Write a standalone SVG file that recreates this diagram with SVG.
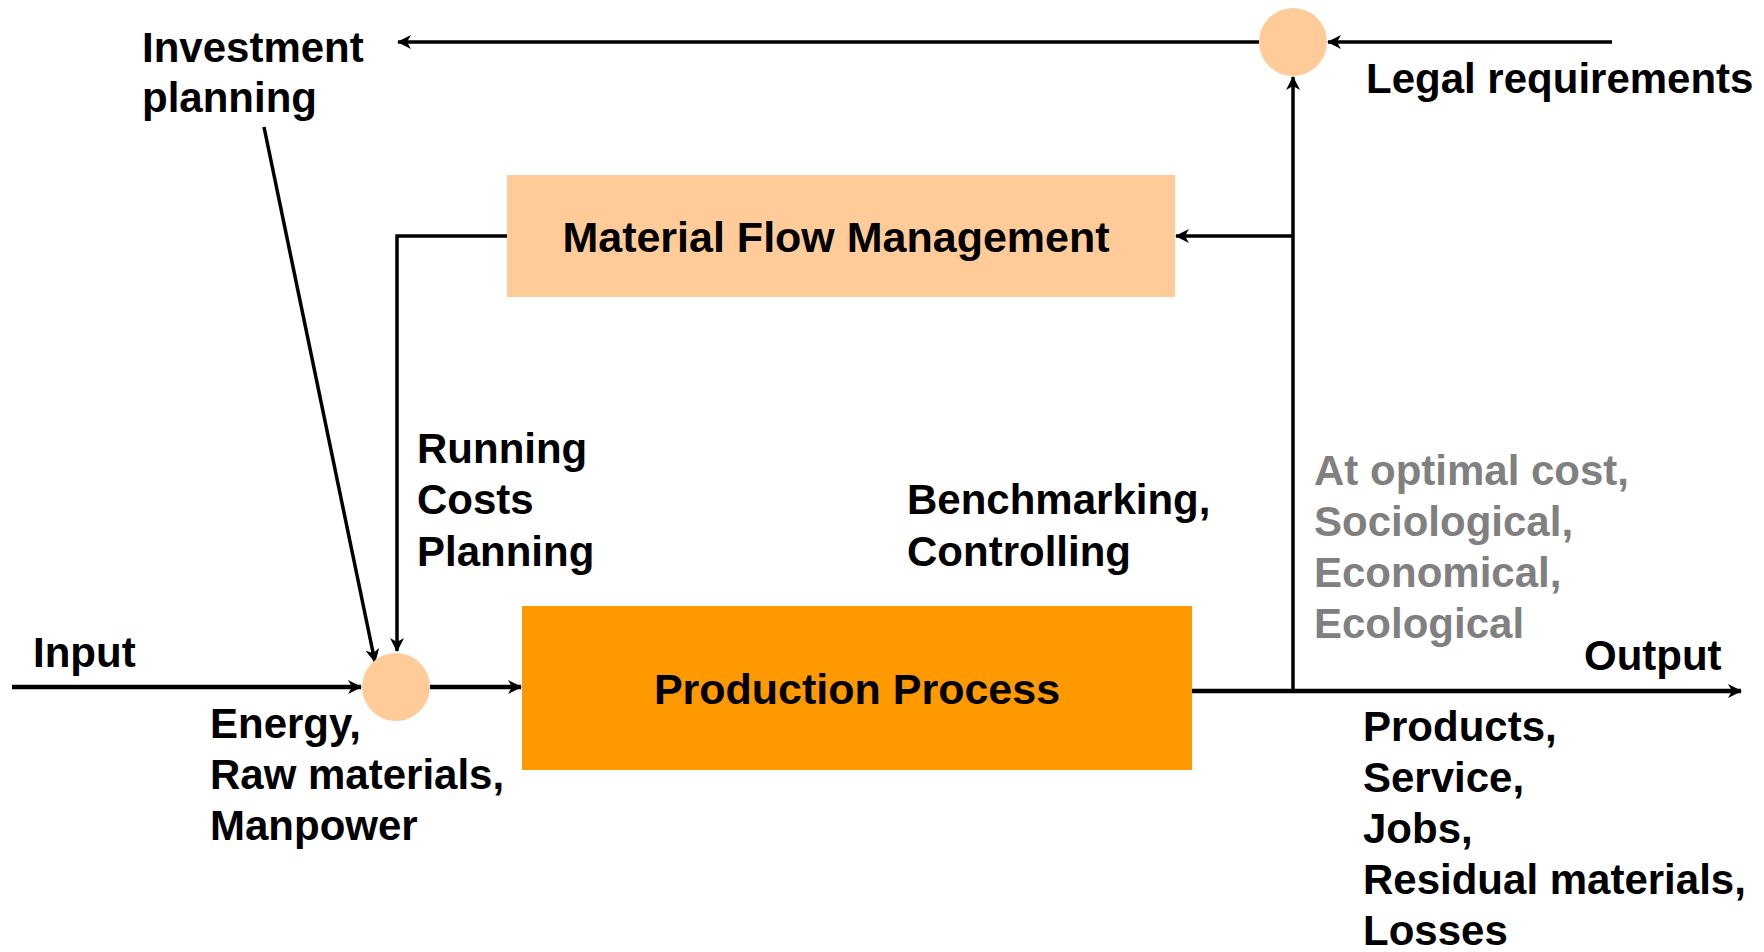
<svg xmlns="http://www.w3.org/2000/svg" width="1764" height="952" viewBox="0 0 1764 952">
<style>
text{font-family:"Liberation Sans",Arial,sans-serif;font-weight:bold;font-size:42px;fill:#000}
.box{font-size:43px}
.grey{fill:#808080}
.ln{fill:none;stroke:#000;stroke-width:3.5}
.thick{stroke-width:4.5}
.light{fill:#FFCC99}
</style>
<defs>
<marker id="ah" viewBox="0 0 14 14" refX="13" refY="7" markerWidth="14" markerHeight="14" markerUnits="userSpaceOnUse" orient="auto">
<path d="M0,0 L14,7 L0,14 L4,7 z" fill="#000"/>
</marker>
</defs>
<rect width="1764" height="952" fill="#fff"/>
<g id="connectors">
<line class="ln thick" x1="12" y1="687" x2="361" y2="687" marker-end="url(#ah)"/>
<line class="ln thick" x1="430" y1="687" x2="521" y2="687" marker-end="url(#ah)"/>
<line class="ln thick" x1="1192" y1="691" x2="1741" y2="691" marker-end="url(#ah)"/>
<line class="ln" x1="1293" y1="691" x2="1293" y2="77" marker-end="url(#ah)"/>
<line class="ln" x1="1293" y1="236" x2="1176" y2="236" marker-end="url(#ah)"/>
<line class="ln" x1="1612" y1="42" x2="1328" y2="42" marker-end="url(#ah)"/>
<line class="ln" x1="1259" y1="42" x2="398" y2="42" marker-end="url(#ah)"/>
<line class="ln" x1="264" y1="127" x2="375" y2="662" marker-end="url(#ah)"/>
<polyline class="ln" points="507,236 397,236 397,651" marker-end="url(#ah)"/>
</g>
<g id="mfm">
<rect class="light" x="507" y="175" width="668" height="122"/>
<text class="box" x="836" y="252" text-anchor="middle">Material Flow Management</text>
</g>
<g id="production">
<rect x="522" y="606" width="670" height="164" fill="#FF9900"/>
<text class="box" x="857" y="704" text-anchor="middle">Production Process</text>
</g>
<g id="input-junction">
<circle class="light" cx="396" cy="687" r="34"/>
</g>
<g id="top-junction">
<circle class="light" cx="1293" cy="42" r="34"/>
</g>
<g id="labels">
<text x="142" y="62">Investment</text>
<text x="142" y="112">planning</text>
<text x="1366" y="93">Legal requirements</text>
<text x="417" y="463">Running</text>
<text x="417" y="514">Costs</text>
<text x="417" y="566">Planning</text>
<text x="907" y="514">Benchmarking,</text>
<text x="907" y="566">Controlling</text>
<text class="grey" x="1314" y="485">At optimal cost,</text>
<text class="grey" x="1314" y="536">Sociological,</text>
<text class="grey" x="1314" y="587">Economical,</text>
<text class="grey" x="1314" y="638">Ecological</text>
<text x="1584" y="670">Output</text>
<text x="1363" y="741">Products,</text>
<text x="1363" y="792">Service,</text>
<text x="1363" y="843">Jobs,</text>
<text x="1363" y="894">Residual materials,</text>
<text x="1363" y="945">Losses</text>
<text x="33" y="667">Input</text>
<text x="210" y="738">Energy,</text>
<text x="210" y="789">Raw materials,</text>
<text x="210" y="840">Manpower</text>
</g>
</svg>
